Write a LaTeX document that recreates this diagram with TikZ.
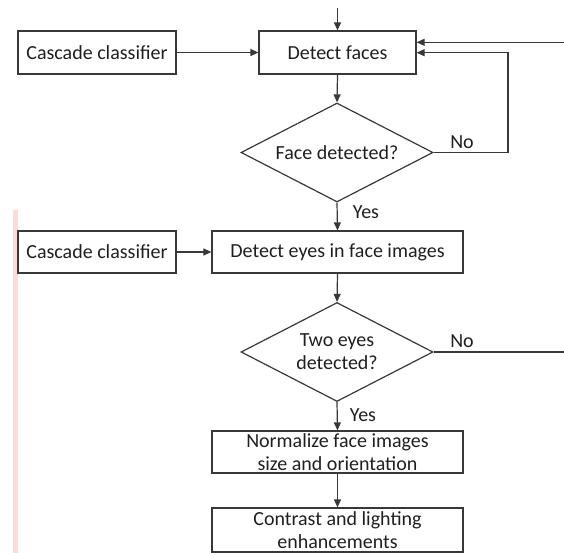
\documentclass[tikz,border=0pt]{standalone}
\usepackage{fontspec}
\setmainfont{Carlito}
\usetikzlibrary{arrows.meta,shapes.geometric}
\definecolor{linec}{rgb}{0.22,0.22,0.22}
\definecolor{textc}{rgb}{0.12,0.12,0.12}
\definecolor{pinkbar}{rgb}{1,0.86,0.84}
\begin{document}
\begin{tikzpicture}[x=1pt,y=-1pt,
  every node/.style={font=\fontsize{20}{23}\selectfont, text=textc},
  box/.style={draw=linec, line width=1.2pt, rectangle, inner sep=0pt, align=center},
  decision/.style={draw=linec, line width=1.2pt, diamond, aspect=2, inner sep=0pt,
     minimum width=192pt, minimum height=99pt, align=center},
  conn/.style={draw=linec, line width=1.2pt},
  arr/.style={conn, -{Triangle[length=8pt,width=7pt]}},
  lbl/.style={inner sep=0pt}
]
\useasboundingbox (0,0) rectangle (564,553);
\fill[pinkbar] (13,210) rectangle (18,553);

\node[box, minimum width=158pt, minimum height=43pt] (casc1) at (97,52.5) {Cascade classifier};
\node[box, minimum width=157pt, minimum height=43pt] (detf) at (337.5,52.5) {Detect faces};
\node[decision] (dec1) at (337,152.5) {Face detected?};
\node[box, minimum width=158pt, minimum height=42pt] (casc2) at (97,252) {Cascade classifier};
\node[box, minimum width=251pt, minimum height=42pt] (dete) at (337.5,252) {Detect eyes in face images};
\node[decision] (dec2) at (337,352) {Two eyes\\detected?};
\node[box, minimum width=251pt, minimum height=42pt] (norm) at (337.5,452) {Normalize face images\\size and orientation};
\node[box, minimum width=251pt, minimum height=44pt] (contr) at (337.5,530) {Contrast and lighting\\enhancements};

\coordinate (topin) at (337.5,8);
\coordinate (rightin) at (564,42.3);
\coordinate (loopc) at (508,152.5);
\coordinate (rightout) at (564,352);
\coordinate (bottomout) at (337.5,553);

\draw[arr] (topin) -- (detf.north);
\draw[arr] (casc1.east) -- (detf.west);
\draw[arr] (rightin) -- (detf.east |- rightin);
\draw[arr] (dec1.east) -- (loopc) -- (loopc |- 0,52.7) -- (detf.east |- 0,52.7);
\draw[arr] (detf.south) -- (dec1.north);
\draw[arr] (dec1.south) -- (dete.north);
\draw[arr] (casc2.east) -- (dete.west);
\draw[arr] (dete.south) -- (dec2.north);
\draw[conn] (dec2.east) -- (rightout);
\draw[arr] (dec2.south) -- (norm.north);
\draw[arr] (norm.south) -- (contr.north);
\draw[conn] (contr.south) -- (bottomout);

\node[lbl] (no1) at (462,142) {No};
\node[lbl] (no2) at (462,341) {No};
\node[lbl] (yes1) at (366,212) {Yes};
\node[lbl] (yes2) at (363,415) {Yes};
\end{tikzpicture}
\end{document}
